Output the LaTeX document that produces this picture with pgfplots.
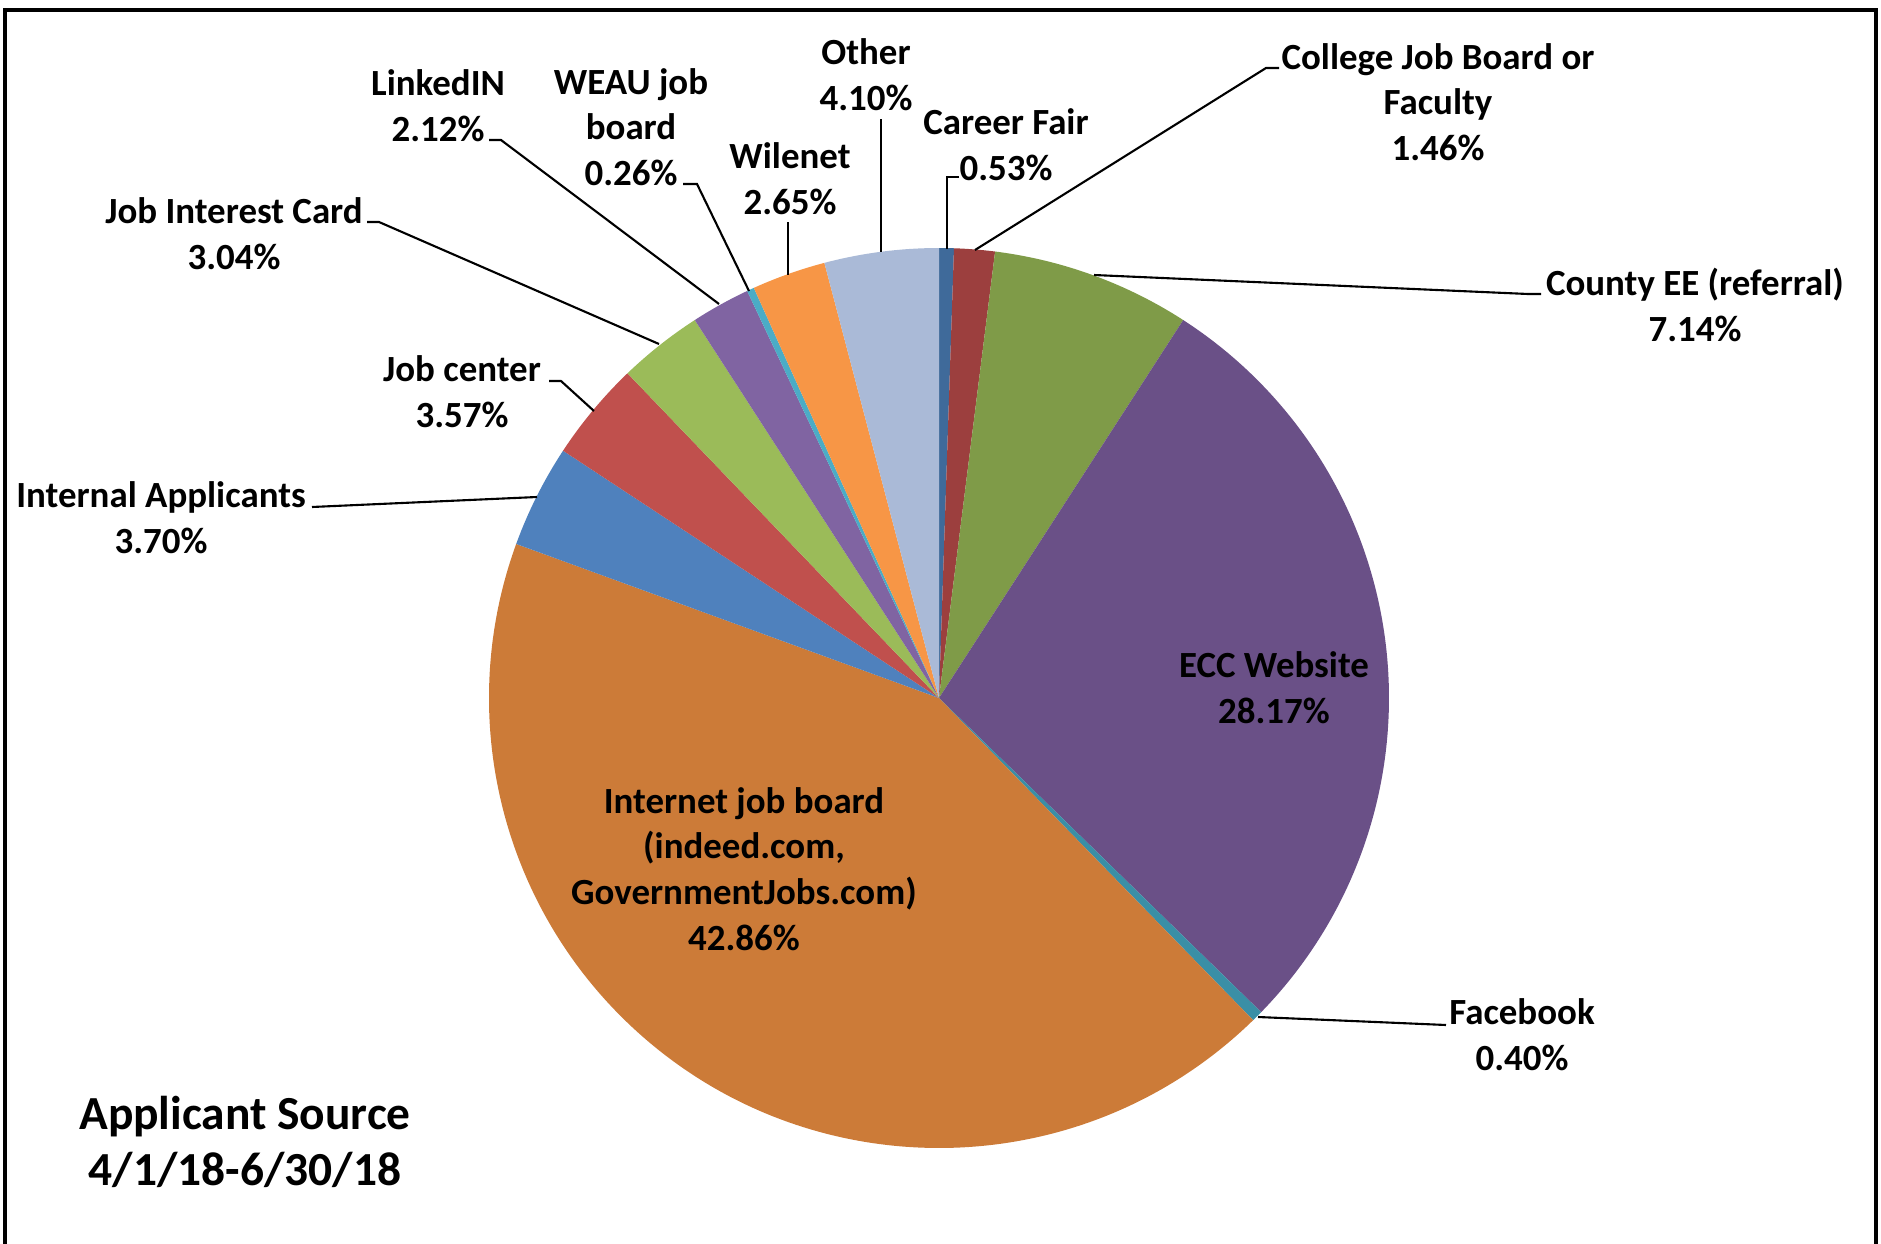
\documentclass[border=0pt]{standalone}
\usepackage{pgfplots}
\usepackage{pgfplotstable}
\pgfplotsset{compat=1.18}
\usepackage{fontspec}
\setmainfont{Carlito}
\definecolor{pc0}{HTML}{3F6A9A}
\definecolor{pc1}{HTML}{9C3F3E}
\definecolor{pc2}{HTML}{7F9B48}
\definecolor{pc3}{HTML}{6A5087}
\definecolor{pc4}{HTML}{3A8FA6}
\definecolor{pc5}{HTML}{CC7B38}
\definecolor{pc6}{HTML}{4F81BD}
\definecolor{pc7}{HTML}{C0504D}
\definecolor{pc8}{HTML}{9BBB59}
\definecolor{pc9}{HTML}{8064A2}
\definecolor{pc10}{HTML}{4BACC6}
\definecolor{pc11}{HTML}{F79646}
\definecolor{pc12}{HTML}{AABAD7}
\newcommand\lbl{\bfseries\fontsize{10.5}{13}\selectfont}
\newcommand\ttl{\bfseries\fontsize{13.5}{15.7}\selectfont}
\pgfplotstableread[col sep=comma]{
label,value
CareerFair,0.53
CollegeJobBoard,1.46
CountyEE,7.14
ECCWebsite,28.17
Facebook,0.40
InternetJobBoard,42.86
InternalApplicants,3.70
JobCenter,3.57
JobInterestCard,3.04
LinkedIN,2.12
WEAU,0.26
Wilenet,2.65
Other,4.10
}\piedata
\begin{document}
\begin{tikzpicture}
\gdef\cum{0}
\foreach \i in {0,...,12}{%
  \pgfplotstablegetelem{\i}{value}\of\piedata
  \pgfmathsetmacro\sa{90-3.6*\cum}%
  \pgfmathsetmacro\newcum{\cum+\pgfplotsretval}%
  \pgfmathsetmacro\sb{90-3.6*\newcum}%
  \expandafter\xdef\csname sa\i\endcsname{\sa}%
  \expandafter\xdef\csname sb\i\endcsname{\sb}%
  \global\let\cum\newcum
}
\begin{axis}[
  scale only axis, width=18.81cm, height=12.44cm,
  xmin=0, xmax=1881, ymin=0, ymax=1244, y dir=reverse,
  hide axis, clip=false]
\pgfplotsinvokeforeach{0,...,12}{
  \fill[pc#1] (axis cs:939,698) -- ++(\csname sa#1\endcsname:4.5cm)
     arc[start angle=\csname sa#1\endcsname, end angle=\csname sb#1\endcsname, radius=4.5cm] -- cycle;
}
% frame
\draw[line width=0.9pt] (axis cs:5,1260) -- (axis cs:5,10) -- (axis cs:1876,10) -- (axis cs:1876,1260);
% leader lines
\begin{scope}[line width=0.6pt]
\draw (axis cs:881,119) -- (axis cs:881,252);
\draw (axis cs:788,222) -- (axis cs:788,275);
\draw (axis cs:683,184) -- (axis cs:697,184) -- (axis cs:749,291);
\draw (axis cs:489,140) -- (axis cs:501,140) -- (axis cs:719,304);
\draw (axis cs:367,222) -- (axis cs:379,222) -- (axis cs:659,344);
\draw (axis cs:549,381) -- (axis cs:561,381) -- (axis cs:594,411);
\draw (axis cs:312,507) -- (axis cs:537,497);
\draw (axis cs:959,177) -- (axis cs:947,177) -- (axis cs:947,249);
\draw (axis cs:1279,68) -- (axis cs:1266,68) -- (axis cs:975,250);
\draw (axis cs:1541,294) -- (axis cs:1528,294) -- (axis cs:1094,275);
\draw (axis cs:1446,1025) -- (axis cs:1258,1017);
\end{scope}
% labels
\begin{scope}[every node/.style={font=\lbl, align=center, inner sep=0pt}]
\node at (axis cs:866,75) {Other\\4.10\%};
\node at (axis cs:1006,145) {Career Fair\\0.53\%};
\node at (axis cs:1438,102) {College Job Board or\\Faculty\\1.46\%};
\node at (axis cs:1695,305) {County EE (referral)\\7.14\%};
\node at (axis cs:1274,688) {ECC Website\\28.17\%};
\node at (axis cs:1522,1035) {Facebook\\0.40\%};
\node at (axis cs:744,869) {Internet job board\\(indeed.com,\\GovernmentJobs.com)\\42.86\%};
\node at (axis cs:161,518) {Internal Applicants\\3.70\%};
\node at (axis cs:462,392) {Job center\\3.57\%};
\node at (axis cs:234,234) {Job Interest Card\\3.04\%};
\node at (axis cs:438,106) {LinkedIN\\2.12\%};
\node at (axis cs:631,127) {WEAU job\\board\\0.26\%};
\node at (axis cs:790,179) {Wilenet\\2.65\%};
\node[font=\ttl] at (axis cs:245,1142) {Applicant Source\\4/1/18-6/30/18};
\end{scope}
\end{axis}
\pgfresetboundingbox
\path[use as bounding box] (0,0) rectangle (18.81cm,12.44cm);
\end{tikzpicture}
\end{document}
